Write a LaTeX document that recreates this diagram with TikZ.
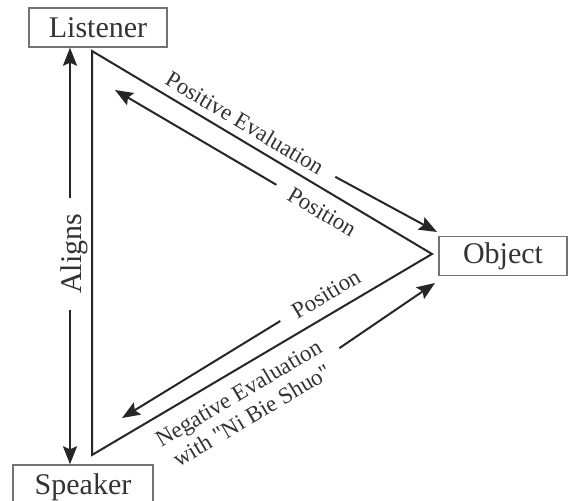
\documentclass[tikz,border=0pt]{standalone}
\usepackage{fontspec}
\setmainfont{Liberation Serif}
\newfontfamily\straightquote{Liberation Serif}
\usepackage{tikz}
\usetikzlibrary{arrows.meta, positioning, calc}

\begin{document}
\begin{tikzpicture}[x=0.5pt, y=-0.5pt,
  every node/.style={text=black!80},
  party/.style={draw=black!55, line width=0.7pt, minimum height=19.5pt, inner sep=0pt, font=\fontsize{15}{18}\selectfont},
  edge/.style={draw=black!85, line width=1pt},
  flow/.style={draw=black!85, line width=1pt, -{Stealth[length=9pt, width=7pt, inset=1.5pt]}},
  lbl/.style={font=\fontsize{11.5}{13}\selectfont, inner sep=7.5pt}]
\useasboundingbox (0,0) rectangle (568,501);
% the three parties
\node[party, minimum width=69pt] (listener) at (98,27.5) {Listener};
\node[party, minimum width=64pt] (object) at (503,256) {Object};
\node[party, minimum width=70pt, minimum height=22pt] (speaker) at (83,487) {Speaker};
% triangle between them
\coordinate (lv) at (92,51);
\coordinate (ov) at (432,254);
\coordinate (sv) at (92,455);
\draw[edge] (lv) -- (ov) -- (sv) -- cycle;
% left: listener <-> speaker
\coordinate (ax) at (70,0);
\node[font=\fontsize{15}{18}\selectfont, rotate=90, inner sep=8pt] (aligns) at (74,254) {Aligns};
\draw[flow] (aligns.east -| ax) -- (listener.south -| ax);
\draw[flow] (aligns.west -| ax) -- (speaker.north -| ax);
% top side
\node[lbl, rotate=-30.8] (poseval) at (245,123) {Positive Evaluation};
\coordinate (posevaltip) at (437,232);
\draw[flow] (poseval.east) -- (posevaltip);
\node[lbl, rotate=-30.8] (postop) at (322,212) {Position};
\coordinate (postoptip) at (115,90);
\draw[flow] (postop.west) -- (postoptip);
% bottom side
\node[lbl, rotate=30.6] (posbot) at (326,294) {Position};
\coordinate (posbottip) at (122,418);
\draw[flow] (posbot.west) -- (posbottip);
\node[lbl, rotate=30.6, align=center] (negeval) at (245,404)
  {Negative Evaluation\\with {\straightquote"}Ni Bie Shuo{\straightquote"}};
\coordinate (negevaltip) at (435,283);
\draw[flow] (negeval.east) -- (negevaltip);
\end{tikzpicture}
\end{document}
